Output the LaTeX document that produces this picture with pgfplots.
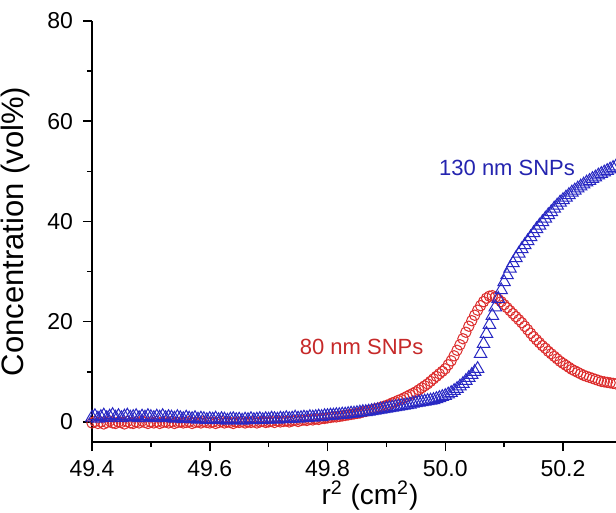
\documentclass[border=0pt]{standalone}
\usepackage{fontspec}
\setmainfont{Liberation Sans}
\usepackage{pgfplots}
\pgfplotsset{compat=1.18}
\usetikzlibrary{calc}
\definecolor{snpRed}{RGB}{220,45,45}
\definecolor{snpBlue}{RGB}{40,40,195}

\pgfplotstableread{
x y
49.400 -0.2
49.405 0.1
49.410 -0.3
49.415 0.0
49.420 -0.4
49.425 -0.1
49.430 0.2
49.435 -0.2
49.440 -0.3
49.445 0.0
49.450 -0.1
49.455 -0.4
49.460 0.1
49.465 -0.2
49.470 -0.3
49.475 0.0
49.480 -0.2
49.485 0.2
49.490 -0.1
49.495 -0.3
49.500 0.0
49.505 -0.2
49.510 0.1
49.515 -0.3
49.520 -0.1
49.525 0.0
49.530 -0.2
49.535 0.1
49.540 -0.3
49.545 -0.1
49.550 0.0
49.555 -0.2
49.560 -0.1
49.565 0.1
49.570 -0.3
49.575 -0.1
49.580 0.0
49.585 -0.2
49.590 0.1
49.595 -0.1
49.600 -0.2
49.605 0.0
49.610 -0.3
49.615 -0.1
49.620 0.1
49.625 -0.2
49.630 0.0
49.635 -0.1
49.640 -0.3
49.645 0.0
49.650 -0.1
49.655 0.1
49.660 -0.2
49.665 0.0
49.670 -0.1
49.675 0.1
49.680 -0.2
49.685 0.0
49.690 0.1
49.695 -0.1
49.700 0.0
49.705 0.1
49.710 -0.1
49.715 0.2
49.720 0.0
49.725 0.1
49.730 0.2
49.735 0.0
49.740 0.2
49.745 0.3
49.750 0.1
49.755 0.3
49.760 0.4
49.765 0.3
49.770 0.5
49.775 0.4
49.780 0.6
49.785 0.5
49.790 0.7
49.795 0.7
49.800 0.8
49.805 0.9
49.810 1.0
49.815 1.0
49.820 1.1
49.825 1.2
49.830 1.3
49.835 1.4
49.840 1.5
49.845 1.6
49.850 1.7
49.855 1.8
49.860 2.0
49.865 2.1
49.870 2.3
49.875 2.4
49.880 2.6
49.885 2.7
49.890 2.9
49.895 3.1
49.900 3.3
49.905 3.5
49.910 3.8
49.915 4.0
49.920 4.3
49.925 4.5
49.930 4.8
49.935 5.1
49.940 5.4
49.945 5.7
49.950 6.0
49.955 6.4
49.960 6.8
49.965 7.2
49.970 7.6
49.975 8.1
49.980 8.6
49.985 9.1
49.990 9.6
49.995 10.1
50.000 10.6
50.005 11.4
50.010 12.2
50.015 13.2
50.020 14.3
50.025 15.4
50.030 16.6
50.035 17.9
50.040 19.1
50.045 20.2
50.050 21.3
50.055 22.3
50.060 23.2
50.065 24.0
50.070 24.7
50.075 25.1
50.080 25.2
50.085 24.9
50.090 24.5
50.095 24.0
50.100 23.4
50.105 22.8
50.110 22.2
50.115 21.6
50.120 21.0
50.125 20.4
50.130 19.8
50.135 19.1
50.140 18.4
50.145 17.7
50.150 17.0
50.155 16.4
50.160 15.8
50.165 15.2
50.170 14.7
50.175 14.1
50.180 13.6
50.185 13.1
50.190 12.6
50.195 12.1
50.200 11.7
50.205 11.3
50.210 10.9
50.215 10.5
50.220 10.2
50.225 9.9
50.230 9.6
50.235 9.3
50.240 9.1
50.245 8.9
50.250 8.7
50.255 8.5
50.260 8.3
50.265 8.1
50.270 8.0
50.275 7.9
50.280 7.8
50.285 7.7
50.290 7.6
}\eightynm

\pgfplotstableread{
x y
49.400 0.9
49.405 1.2
49.410 0.7
49.415 1.0
49.420 1.3
49.425 0.8
49.430 1.1
49.435 1.4
49.440 0.9
49.445 1.2
49.450 0.8
49.455 1.1
49.460 1.3
49.465 0.9
49.470 1.0
49.475 1.2
49.480 0.8
49.485 1.1
49.490 0.9
49.495 1.2
49.500 1.0
49.505 0.8
49.510 1.1
49.515 0.9
49.520 1.2
49.525 0.8
49.530 1.0
49.535 0.9
49.540 0.7
49.545 1.0
49.550 0.8
49.555 0.6
49.560 0.9
49.565 0.7
49.570 0.6
49.575 0.8
49.580 0.5
49.585 0.7
49.590 0.6
49.595 0.4
49.600 0.6
49.605 0.5
49.610 0.7
49.615 0.4
49.620 0.6
49.625 0.5
49.630 0.3
49.635 0.5
49.640 0.6
49.645 0.4
49.650 0.5
49.655 0.3
49.660 0.5
49.665 0.4
49.670 0.6
49.675 0.4
49.680 0.5
49.685 0.6
49.690 0.4
49.695 0.6
49.700 0.5
49.705 0.7
49.710 0.6
49.715 0.5
49.720 0.7
49.725 0.6
49.730 0.8
49.735 0.6
49.740 0.7
49.745 0.9
49.750 0.7
49.755 0.8
49.760 0.9
49.765 0.8
49.770 1.0
49.775 0.9
49.780 1.0
49.785 1.1
49.790 1.0
49.795 1.2
49.800 1.2
49.805 1.3
49.810 1.3
49.815 1.4
49.820 1.4
49.825 1.5
49.830 1.5
49.835 1.6
49.840 1.7
49.845 1.7
49.850 1.8
49.855 1.9
49.860 2.0
49.865 2.0
49.870 2.1
49.875 2.2
49.880 2.3
49.885 2.4
49.890 2.5
49.895 2.6
49.900 2.7
49.905 2.8
49.910 2.9
49.915 3.0
49.920 3.1
49.925 3.2
49.930 3.3
49.935 3.4
49.940 3.5
49.945 3.7
49.950 3.8
49.955 3.9
49.960 4.0
49.965 4.1
49.970 4.2
49.975 4.3
49.980 4.4
49.985 4.6
49.990 4.8
49.995 5.0
50.000 5.2
50.005 5.5
50.010 5.8
50.015 6.2
50.020 6.6
50.025 7.1
50.030 7.6
50.035 8.2
50.040 8.8
50.045 9.4
50.050 10.0
50.055 10.6
50.060 13.6
50.065 15.6
50.070 17.6
50.075 19.4
50.080 21.2
50.085 22.9
50.090 24.6
50.095 26.3
50.100 27.9
50.105 29.3
50.110 30.6
50.115 31.7
50.120 32.7
50.125 33.6
50.130 34.5
50.135 35.3
50.140 36.1
50.145 36.9
50.150 37.7
50.155 38.5
50.160 39.2
50.165 39.9
50.170 40.6
50.175 41.3
50.180 41.9
50.185 42.6
50.190 43.2
50.195 43.8
50.200 44.3
50.205 44.8
50.210 45.3
50.215 45.8
50.220 46.2
50.225 46.6
50.230 47.0
50.235 47.4
50.240 47.8
50.245 48.1
50.250 48.5
50.255 48.8
50.260 49.2
50.265 49.5
50.270 49.8
50.275 50.1
50.280 50.4
50.285 50.7
50.290 51.0
}\onethirtynm

\begin{document}
\begin{tikzpicture}
\begin{axis}[
    scale only axis,
    width=262pt,
    height=210.5pt,
    xmin=49.4, xmax=50.29,
    ymin=-4, ymax=80,
    axis x line*=bottom,
    axis y line*=left,
    axis line style={line width=0.75pt},
    every tick/.style={black, line width=0.75pt},
    tick align=outside,
    major tick length=4.5pt,
    minor tick length=2.5pt,
    xtick={49.4,49.6,49.8,50.0,50.2},
    ytick={0,20,40,60,80},
    minor x tick num=1,
    minor y tick num=1,
    /pgf/number format/assume math mode=true,
    every tick label/.append style={font=\fontsize{11.5}{13}\selectfont},
    yticklabel style={xshift=-1.5pt},
    xticklabel style={yshift=-1pt, /pgf/number format/fixed, /pgf/number format/fixed zerofill, /pgf/number format/precision=1},
    label style={font=\fontsize{15.5}{18}\selectfont},
    xlabel={r\textsuperscript{2} (cm\textsuperscript{2})},
    ylabel={Concentration (vol\%)},
    ylabel style={yshift=2pt},
    xlabel style={font=\fontsize{14}{16}\selectfont, inner sep=1pt, yshift=2.5pt, xshift=8pt},
    clip=true,
]
\coordinate (bl) at (rel axis cs:0,0);
\coordinate (tr) at (rel axis cs:1,1);
\addplot[only marks, mark=o, mark size=2.6pt, color=snpRed, mark options={line width=0.5pt}] table[x=x, y=y] {\eightynm};
\addplot[only marks, mark=triangle, mark size=3.6pt, color=snpBlue, mark options={line width=0.5pt}] table[x=x, y=y] {\onethirtynm};
\node[text=snpRed!90!black, font=\fontsize{11}{13}\selectfont] at (axis cs:49.858,14.9) {80 nm SNPs};
\node[text=snpBlue!90!black, font=\fontsize{11}{13}\selectfont] at (axis cs:50.105,50.6) {130 nm SNPs};
\end{axis}
\pgfresetboundingbox
\useasboundingbox ($(bl)+(-46pt,-35pt)$) rectangle ($(tr)+(0pt,10.5pt)$);
\end{tikzpicture}
\end{document}
